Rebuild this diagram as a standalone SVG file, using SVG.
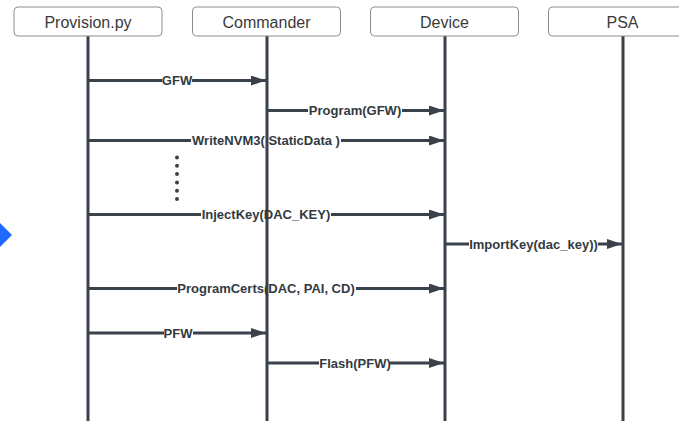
<svg xmlns="http://www.w3.org/2000/svg" width="679" height="421" viewBox="0 0 679 421">
  <style>
    .box { fill: #ffffff; stroke: #8a8d91; stroke-width: 1; }
    .title { font-family: "Liberation Sans", Arial, sans-serif; font-size: 16px; fill: #3a3a3a; text-anchor: middle; }
    .life { stroke: #3a414a; stroke-width: 3; fill: none; }
    .msg { stroke: #3a414a; stroke-width: 3; fill: none; }
    .lbl { font-family: "Liberation Sans", Arial, sans-serif; font-size: 13px; font-weight: bold; fill: #333a42; text-anchor: middle; }
    .dots { stroke: #3a414a; stroke-width: 4; stroke-linecap: round; stroke-dasharray: 0 8.3; fill: none; }
  </style>
  <defs>
    <marker id="head" viewBox="0 0 15 10" refX="15" refY="5" markerWidth="15" markerHeight="10" markerUnits="userSpaceOnUse" orient="auto">
      <path d="M0,0 L15,5 L0,10 Z" fill="#3a414a"/>
    </marker>
  </defs>

  <rect width="679" height="421" fill="#ffffff"/>

  <!-- participants -->
  <g id="provision">
    <line class="life" x1="88" y1="36" x2="88" y2="421"/>
    <rect class="box" x="14" y="7" width="148" height="29" rx="4"/>
    <text class="title" x="88" y="27.5">Provision.py</text>
  </g>
  <g id="commander">
    <line class="life" x1="267" y1="36" x2="267" y2="421"/>
    <rect class="box" x="192.5" y="7" width="148" height="29" rx="4"/>
    <text class="title" x="266.5" y="27.5">Commander</text>
  </g>
  <g id="device">
    <line class="life" x1="445" y1="36" x2="445" y2="421"/>
    <rect class="box" x="370.5" y="7" width="148" height="29" rx="4"/>
    <text class="title" x="444.5" y="27.5">Device</text>
  </g>
  <g id="psa">
    <line class="life" x1="623" y1="36" x2="623" y2="421"/>
    <rect class="box" x="548.5" y="7" width="148" height="29" rx="4"/>
    <text class="title" x="622.5" y="27.5">PSA</text>
  </g>

  <!-- messages -->
  <g id="connectors">
    <g id="m-gfw">
      <line class="msg" x1="88" y1="80.5" x2="162" y2="80.5"/>
      <line class="msg" x1="192" y1="80.5" x2="266" y2="80.5" marker-end="url(#head)"/>
      <text class="lbl" x="177" y="85">GFW</text>
    </g>
    <g id="m-program">
      <line class="msg" x1="267" y1="110.5" x2="308" y2="110.5"/>
      <line class="msg" x1="402" y1="110.5" x2="444" y2="110.5" marker-end="url(#head)"/>
      <text class="lbl" x="355" y="115">Program(GFW)</text>
    </g>
    <g id="m-writenvm">
      <line class="msg" x1="88" y1="140.5" x2="191" y2="140.5"/>
      <line class="msg" x1="341" y1="140.5" x2="444" y2="140.5" marker-end="url(#head)"/>
      <text class="lbl" x="266" y="145">WriteNVM3( StaticData )</text>
    </g>
    <g id="m-injectkey">
      <line class="msg" x1="88" y1="214.5" x2="201" y2="214.5"/>
      <line class="msg" x1="331" y1="214.5" x2="444" y2="214.5" marker-end="url(#head)"/>
      <text class="lbl" x="266" y="219">InjectKey(DAC_KEY)</text>
    </g>
    <g id="m-importkey">
      <line class="msg" x1="445" y1="244" x2="469" y2="244"/>
      <line class="msg" x1="598" y1="244" x2="622" y2="244" marker-end="url(#head)"/>
      <text class="lbl" x="533.5" y="248.5">ImportKey(dac_key))</text>
    </g>
    <g id="m-programcerts">
      <line class="msg" x1="88" y1="288.5" x2="177" y2="288.5"/>
      <line class="msg" x1="356" y1="288.5" x2="444" y2="288.5" marker-end="url(#head)"/>
      <text class="lbl" x="266" y="293">ProgramCerts(DAC, PAI, CD)</text>
    </g>
    <g id="m-pfw">
      <line class="msg" x1="88" y1="333" x2="164" y2="333"/>
      <line class="msg" x1="193" y1="333" x2="266" y2="333" marker-end="url(#head)"/>
      <text class="lbl" x="178" y="337.5">PFW</text>
    </g>
    <g id="m-flash">
      <line class="msg" x1="267" y1="363" x2="319" y2="363"/>
      <line class="msg" x1="390" y1="363" x2="444" y2="363" marker-end="url(#head)"/>
      <text class="lbl" x="355" y="367.5">Flash(PFW)</text>
    </g>
  </g>

  <!-- ellipsis between the NVM write and key injection -->
  <line class="dots" x1="177" y1="157.5" x2="177" y2="199.5"/>

  <!-- blue marker at the left edge -->
  <polygon points="-5,218 12,235 -5,252" fill="#1f6bff"/>
</svg>
